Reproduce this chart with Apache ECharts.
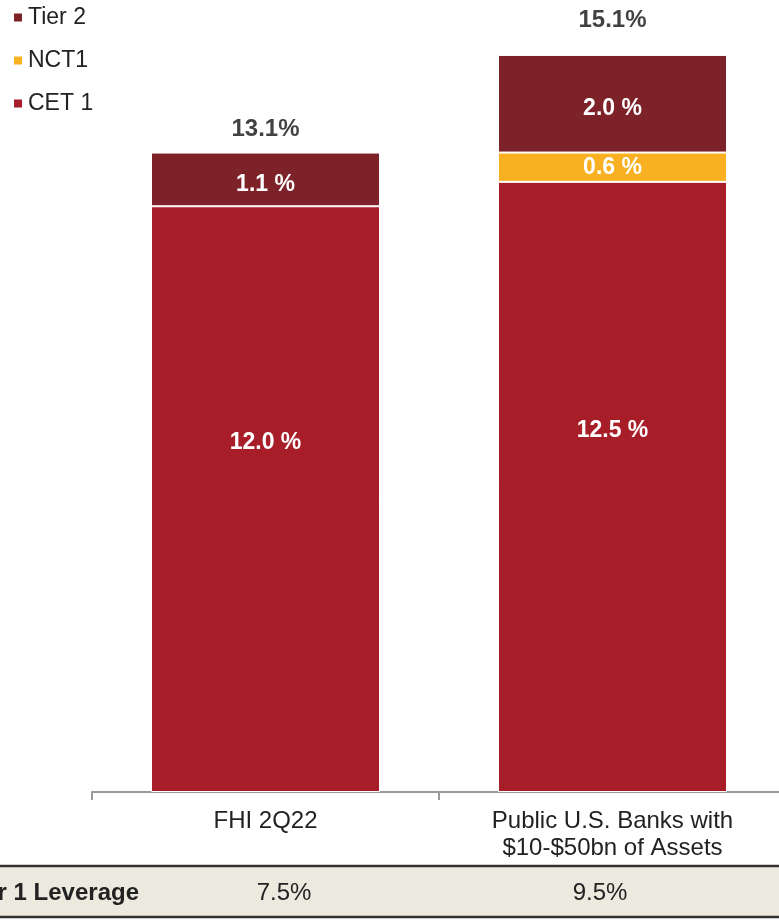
<!DOCTYPE html>
<html>
<head>
<meta charset="utf-8">
<script src="https://cdn.jsdelivr.net/npm/echarts@6/dist/echarts.min.js"></script>
<style>
  html, body { margin: 0; padding: 0; background: #fff; overflow: hidden; }
  /* the plot runs a few pixels past the right edge of the window */
  #chart { width: 786px; height: 921px; }
</style>
</head>
<body>
<div id="chart"></div>
<script>
// Capital stack per peer group (% of risk-weighted assets)
const categories = ['FHI 2Q22', 'Public U.S. Banks with\n$10-$50bn of Assets'];
const cet1 = [12.0, 12.5];
const nct1 = [null, 0.6];
const tier2 = [1.1, 2.0];

// Table row under the chart
const leverageLabel = 'Tier 1 Leverage';
const leverageValues = ['7.5%', '9.5%'];

const totals = categories.map((_, i) =>
  +((cet1[i] || 0) + (nct1[i] || 0) + (tier2[i] || 0)).toFixed(1));

const FONT = '"Liberation Sans", Arial, sans-serif';
const colors = { tier2: '#7D2228', nct1: '#F9B122', cet1: '#A71E29' };

const chart = echarts.init(document.getElementById('chart'), null, { renderer: 'canvas' });

const segLabel = (offsetY) => ({
  show: true,
  position: 'inside',
  offset: [0, offsetY],
  color: '#fff',
  fontFamily: FONT,
  fontWeight: 'bold',
  fontSize: 23,
  formatter: (p) => p.value == null ? '' : p.value.toFixed(1) + ' %'
});

// extra lift for the total labels above each bar
const totalLift = [11, 23];

const option = {
  animation: false,
  legend: {
    orient: 'vertical',
    left: 12,
    top: 6,
    padding: 0,
    itemWidth: 10,
    itemHeight: 10,
    itemGap: 20,
    icon: 'rect',
    data: ['Tier 2', 'NCT1', 'CET 1'],
    textStyle: { fontFamily: FONT, fontSize: 23, color: '#222' }
  },
  grid: { left: 92, right: 0, top: 11, bottom: 129 },
  xAxis: {
    type: 'category',
    data: categories,
    axisLine: { lineStyle: { color: '#999', width: 2 } },
    axisTick: { show: true, length: 8, lineStyle: { color: '#999', width: 2 } },
    axisLabel: {
      margin: 16,
      fontFamily: FONT,
      fontSize: 24,
      color: '#222',
      lineHeight: 27
    }
  },
  yAxis: { type: 'value', min: 0, max: 16, show: false, splitLine: { show: false } },
  series: [
    {
      name: 'CET 1', type: 'bar', stack: 'cap', barWidth: 229,
      data: cet1,
      itemStyle: { color: colors.cet1, borderColor: '#fff', borderWidth: 1 },
      label: segLabel(-56)
    },
    {
      name: 'NCT1', type: 'bar', stack: 'cap', barWidth: 229,
      data: nct1,
      itemStyle: { color: colors.nct1, borderColor: '#fff', borderWidth: 1 },
      label: segLabel(0)
    },
    {
      name: 'Tier 2', type: 'bar', stack: 'cap', barWidth: 229,
      data: tier2,
      itemStyle: { color: colors.tier2, borderColor: '#fff', borderWidth: 1 },
      label: segLabel(5)
    },
    {
      name: 'Total', type: 'scatter', symbolSize: 0,
      data: totals.map((v, i) => ({
        value: [i, v],
        label: { distance: totalLift[i] }
      })),
      label: {
        show: true,
        position: 'top',
        color: '#111',
        fontFamily: FONT,
        fontWeight: 'bold',
        fontSize: 24,
        formatter: (p) => p.value[1].toFixed(1) + '%'
      },
      emphasis: { disabled: true },
      silent: true
    }
  ],
  graphic: [
    {
      type: 'rect', z: 0,
      shape: { x: 0, y: 866, width: 786, height: 51 },
      style: { fill: '#ECE9DF' }
    },
    {
      type: 'line',
      shape: { x1: 0, y1: 866, x2: 786, y2: 866 },
      style: { stroke: '#333', lineWidth: 2.5 }
    },
    {
      type: 'line',
      shape: { x1: 0, y1: 917, x2: 786, y2: 917 },
      style: { stroke: '#333', lineWidth: 2.5 }
    },
    {
      type: 'text', x: 139, y: 893,
      style: {
        text: leverageLabel, align: 'right', verticalAlign: 'middle',
        font: 'bold 24px ' + FONT, fill: '#222'
      }
    },
    {
      type: 'text', x: 284, y: 893,
      style: {
        text: leverageValues[0], align: 'center', verticalAlign: 'middle',
        font: '24px ' + FONT, fill: '#222'
      }
    },
    {
      type: 'text', x: 600, y: 893,
      style: {
        text: leverageValues[1], align: 'center', verticalAlign: 'middle',
        font: '24px ' + FONT, fill: '#222'
      }
    }
  ]
};

chart.setOption(option);
</script>
</body>
</html>
